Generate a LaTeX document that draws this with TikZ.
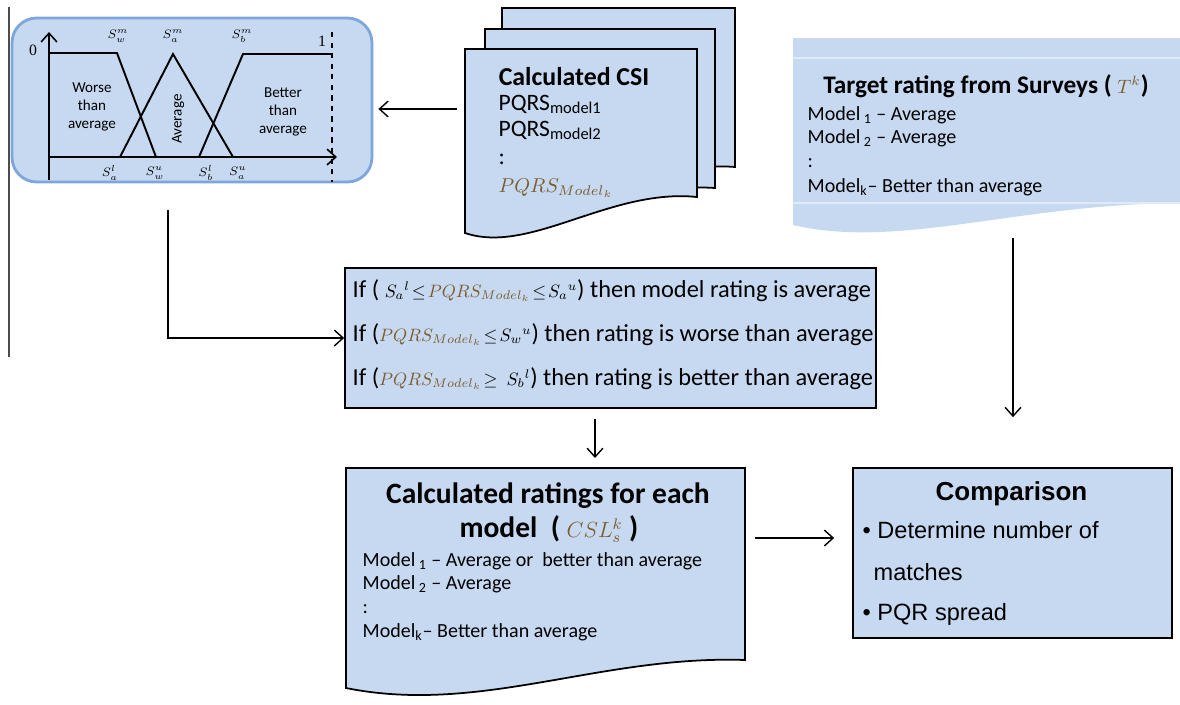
\RequirePackage{fix-cm}
\documentclass[tikz,border=0pt]{standalone}
\usepackage{fontspec}
\setmainfont{Carlito}
\newfontfamily\arialfont{Liberation Sans}
\newfontfamily\seriffont{Liberation Serif}
\usetikzlibrary{arrows.meta}
\definecolor{boxfill}{HTML}{C6D9F1}
\definecolor{boxline}{HTML}{7EA6DA}
\definecolor{mathbrown}{HTML}{7A5C2E}
\newcommand{\pqrsk}{\textcolor{mathbrown}{PQRS_{Model_k}}}
\newcommand{\mathsmall}[1]{{\fontsize{10.2}{12}\selectfont$#1$}}

\begin{document}
\begin{tikzpicture}[x=0.02cm,y=-0.02cm,line width=0.8pt,>={Straight Barb[length=5pt,width=9pt]},
    docpage/.style={fill=boxfill,draw=black,line width=1pt},
    txt/.style={inner sep=0,anchor=base west},
    ttl/.style={inner sep=0,anchor=base,font=\bfseries\fontsize{14.7}{17}\selectfont},
    fuzzybox/.style={rounded corners=14pt,fill=boxfill,draw=boxline,line width=1.6pt,minimum width=7.2cm,minimum height=3.28cm,inner sep=0},
    plainbox/.style={fill=boxfill,draw=black,line width=1pt,inner sep=0},
    lbl/.style={inner sep=0,font=\fontsize{7}{8}\selectfont},
    body/.style={txt,font=\fontsize{11.4}{13}\selectfont},
    rule/.style={txt,font=\fontsize{13.9}{17}\selectfont}]
    \useasboundingbox (0,0) rectangle (1180,704);
    \draw [line width=0.6pt,black!70] (9,7) -- (9,357);

    % fuzzy membership chart
    \node [fuzzybox] (fuzzy) at (192,100) {};
    \draw [->,line width=0.9pt] (49,180) -- (49,32);
    \draw [->,line width=0.9pt] (49,157) -- (337,157);
    \draw [dashed,line width=0.9pt] (332,32) -- (332,182);
    \draw [line width=1.1pt] (49,53) -- (117,53) -- (156,157);
    \draw [line width=1.1pt] (120,157) -- (173,54) -- (233,157);
    \draw [line width=1.1pt] (199,157) -- (243,54) -- (332,54);
    \node [inner sep=0,font=\seriffont\fontsize{9}{10}\selectfont] (zero) at (33,50) {0};
    \node [inner sep=0,font=\seriffont\fontsize{9}{10}\selectfont] (one) at (322,41) {1};
    \node [lbl] (swm) at (118,36) {$S_w^m$};
    \node [lbl] (sam) at (173,36) {$S_a^m$};
    \node [lbl] (sbm) at (242,36) {$S_b^m$};
    \node [lbl] (sal) at (110,173) {$S_a^l$};
    \node [lbl] (swu) at (155,173) {$S_w^u$};
    \node [lbl] (sbl) at (206,173) {$S_b^l$};
    \node [lbl] (sau) at (238,173) {$S_a^u$};
    \node [align=center,inner sep=0,font=\fontsize{8.6}{10.4}\selectfont] (worse) at (92,107) {Worse\\than\\average};
    \node [rotate=90,inner sep=0,font=\fontsize{8.6}{10.4}\selectfont] (avg) at (178,119) {Average};
    \node [align=center,inner sep=0,font=\fontsize{8.6}{10.4}\selectfont] (better) at (283,112) {Better\\than\\average};

    % stack of CSI pages
    \draw [docpage] (502,8) -- (735,8) -- (735,167) .. controls (650,160) and (560,215) .. (502,200) -- cycle;
    \draw [docpage] (485,29) -- (715,29) -- (715,188) .. controls (630,182) and (545,236) .. (485,221) -- cycle;
    \draw [docpage] (465,49) -- (697,49) -- (697,197) .. controls (610,188) and (530,255) .. (465,233) -- cycle;
    \node [ttl] (csi) at (574,85) {Calculated CSI};
    \node [txt,font=\fontsize{13.4}{15}\selectfont] (csi1) at (498,110) {PQRS\textsubscript{model1}};
    \node [txt,font=\fontsize{13.4}{15}\selectfont] (csi2) at (498,136) {PQRS\textsubscript{model2}};
    \node [txt,font=\fontsize{13.4}{15}\selectfont] (csi3) at (498,164) {:};
    \node [txt,font=\fontsize{11.4}{13}\selectfont] (csi4) at (498,192) {$\pqrsk$};
    \coordinate (csiL) at (465,109);

    % survey targets
    \fill [boxfill] (793,38) -- (1185,38) -- (1185,203) .. controls (1020,203) and (900,250) .. (793,225) -- cycle;
    \draw [boxfill!55!white,line width=0.6pt] (793,58) -- (1185,58) (793,203) -- (1185,203);
    \node [ttl,font=\bfseries\fontsize{14.4}{17}\selectfont] (target) at (986,93) {Target rating from Surveys ( {\fontsize{11}{12}\selectfont$\textcolor{mathbrown}{T^k}$})};
    \node [body] (t1) at (807,120) {Model\,\textsubscript{1} -- Average};
    \node [body] (t2) at (807,143) {Model\,\textsubscript{2} -- Average};
    \node [body] (t3) at (807,167) {:};
    \node [body] (t4) at (807,192) {Model\textsubscript{k}-- Better than average};
    \coordinate (targetB) at (1013,228);

    % rules
    \node [plainbox,minimum width=10.62cm,minimum height=2.8cm] (rules) at (610.5,338) {};
    \node [rule] (r1) at (352,297) {If ( \mathsmall{S_a{}^l\!\leq\!\pqrsk\!\leq\!S_a{}^u}) then model rating is average};
    \node [rule] (r2) at (352,341) {If (\mathsmall{\pqrsk\!\leq\!S_w{}^u}) then rating is worse than average};
    \node [rule] (r3) at (352,385) {If (\mathsmall{\pqrsk\!\geq\ S_b{}^l}) then rating is better than average};

    % calculated ratings
    \draw [docpage] (346,468) -- (745,468) -- (745,660) .. controls (600,655) and (480,715) .. (346,688) -- cycle;
    \node [ttl,font=\bfseries\fontsize{16.8}{19}\selectfont] (rate1) at (548,503) {Calculated ratings for each};
    \node [ttl,font=\bfseries\fontsize{16.8}{19}\selectfont] (rate2) at (549,537) {model~ ( {\fontsize{12.5}{14}\selectfont$\textcolor{mathbrown}{CSL_s^k}$} )};
    \node [body] (m1) at (362,566) {Model\,\textsubscript{1} -- Average or~ better than average};
    \node [body] (m2) at (362,589) {Model\,\textsubscript{2} -- Average};
    \node [body] (m3) at (362,613) {:};
    \node [body] (m4) at (362,637) {Model\textsubscript{k}-- Better than average};
    \coordinate (ratingsTop) at (595,468);
    \coordinate (ratingsR) at (745,538);

    % comparison
    \node [plainbox,minimum width=6.38cm,minimum height=3.4cm] (compare) at (1012.5,553) {};
    \node [inner sep=0,anchor=base,font=\arialfont\bfseries\fontsize{14.8}{17}\selectfont] (ctitle) at (1011.5,500) {Comparison};
    \node [txt,font=\arialfont\fontsize{13.4}{15}\selectfont] (c1) at (862,538) {\textbullet\ Determine number of};
    \node [txt,font=\arialfont\fontsize{13.4}{15}\selectfont] (c2) at (873,580) {matches};
    \node [txt,font=\arialfont\fontsize{13.4}{15}\selectfont] (c3) at (862,620) {\textbullet\ PQR spread};

    % connectors
    \draw [->,shorten <=0.16cm,shorten >=0.1cm] (csiL) -- (fuzzy.east |- csiL);
    \draw [->] ([xshift=-0.48cm,yshift=-0.54cm]fuzzy.south) |- (rules.west);
    \draw [->,shorten <=0.2cm,shorten >=0.2cm] (rules.south -| ratingsTop) -- (ratingsTop);
    \draw [->,shorten <=0.2cm,shorten >=1cm] (targetB) -- (compare.north -| targetB);
    \draw [->,shorten <=0.2cm,shorten >=0.36cm] (ratingsR) -- (compare.west |- ratingsR);
\end{tikzpicture}
\end{document}
